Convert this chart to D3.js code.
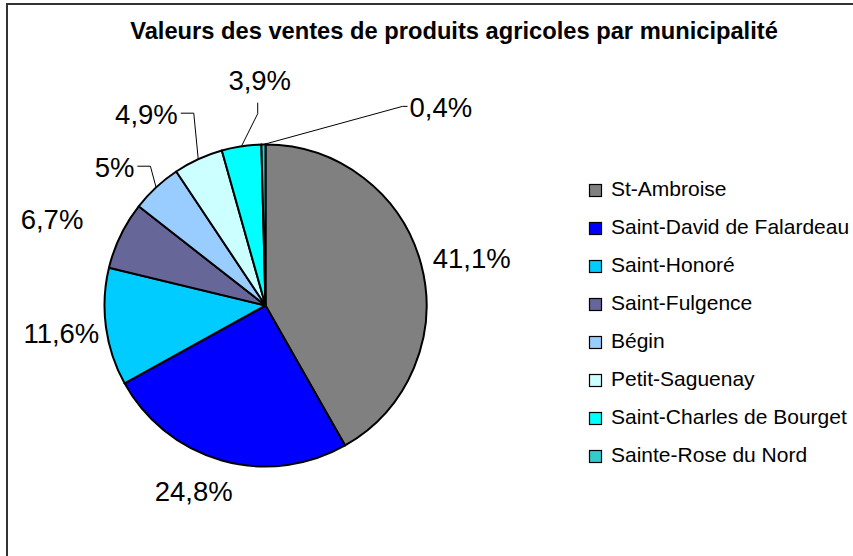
<!DOCTYPE html>
<html>
<head>
<meta charset="utf-8">
<script src="https://cdn.jsdelivr.net/npm/d3@7"></script>
<style>
  body { margin: 0; background: #fff; }
  svg { display: block; font-family: "Liberation Sans", Arial, sans-serif; }
</style>
</head>
<body>
<div id="chart"></div>
<script>
// data
const municipalities = [
  "St-Ambroise",
  "Saint-David de Falardeau",
  "Saint-Honoré",
  "Saint-Fulgence",
  "Bégin",
  "Petit-Saguenay",
  "Saint-Charles de Bourget",
  "Sainte-Rose du Nord"
];
const shares = [41.1, 24.8, 11.6, 6.7, 5, 4.9, 3.9, 0.4];
const colors = ["#808080", "#0000FF", "#00CCFF", "#666699", "#99CCFF", "#CCFFFF", "#00FFFF", "#33CCCC"];

// label placement tweaks (offset from the default spot around the pie)
const labelNudge = [[7, 5], [-16, -13], [0, 0], [-28, 3], [-11, 13], [-33, -4], [25, -22], [178, 8]];
const leaderSide = [null, null, null, null, "right", "right", "bottom", "left"];

const width = 853, height = 556;
const cx = 265.5, cy = 305.5, radius = 161;
const labelFont = 27.5;

const svg = d3.select("#chart").append("svg")
  .attr("width", width)
  .attr("height", height);

// chart frame (runs off the right and bottom of the picture)
svg.append("rect")
  .attr("x", 7).attr("y", 4)
  .attr("width", 900).attr("height", 600)
  .attr("fill", "#fff")
  .attr("stroke", "#333")
  .attr("stroke-width", 2);

svg.append("text")
  .attr("x", 454).attr("y", 39)
  .attr("text-anchor", "middle")
  .attr("font-size", 23.7)
  .attr("font-weight", "bold")
  .text("Valeurs des ventes de produits agricoles par municipalité");

const pie = d3.pie().sort(null).value(d => d)(shares);
const arc = d3.arc().innerRadius(0).outerRadius(radius);

const g = svg.append("g").attr("transform", `translate(${cx},${cy})`);

g.selectAll("path")
  .data(pie)
  .join("path")
  .attr("d", arc)
  .attr("fill", (d, i) => colors[i])
  .attr("stroke", "#000")
  .attr("stroke-width", 2)
  .attr("stroke-linejoin", "round");

const fmt = v => String(v).replace(".", ",") + "%";
const polar = (a, r) => [r * Math.sin(a), -r * Math.cos(a)];

pie.forEach((d, i) => {
  const mid = (d.startAngle + d.endAngle) / 2;
  const p = polar(mid, radius + 45);
  const x = p[0] + labelNudge[i][0];
  const yMid = p[1] + labelNudge[i][1];
  const base = yMid + labelFont * 0.358;

  const t = g.append("text")
    .attr("x", x).attr("y", base)
    .attr("text-anchor", "middle")
    .attr("font-size", labelFont)
    .attr("fill", "#000")
    .text(fmt(shares[i]));

  const side = leaderSide[i];
  if (!side) return;
  const box = t.node().getBBox();
  const start = polar(mid, radius);
  let attach, elbow;
  if (side === "right") {
    attach = [box.x + box.width + 3, base - 11];
    elbow = [attach[0] + 13, attach[1]];
  } else if (side === "left") {
    attach = [box.x - 2, base - 11];
    elbow = [attach[0] - 5, attach[1]];
  } else {
    attach = [x - 2, base + 13];
    elbow = [attach[0], attach[1] + 11];
  }
  g.append("path")
    .attr("d", d3.line()([start, elbow, attach]))
    .attr("fill", "none")
    .attr("stroke", "#000")
    .attr("stroke-width", 1);
});

// legend
const legend = svg.append("g").attr("transform", "translate(589,196)");
const items = legend.selectAll("g")
  .data(municipalities)
  .join("g")
  .attr("transform", (d, i) => `translate(0,${i * 38})`);

items.append("rect")
  .attr("x", 0.5).attr("y", -11.5)
  .attr("width", 12).attr("height", 12)
  .attr("fill", (d, i) => colors[i])
  .attr("stroke", "#000")
  .attr("stroke-width", 1.2);

items.append("text")
  .attr("x", 22).attr("y", 0)
  .attr("font-size", 21)
  .attr("fill", "#000")
  .text(d => d);
</script>
</body>
</html>
